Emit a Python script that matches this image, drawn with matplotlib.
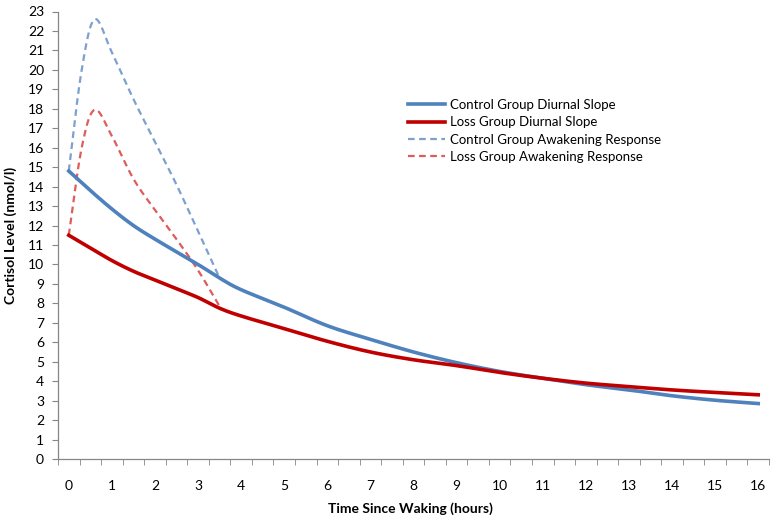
import numpy as np
import matplotlib
matplotlib.use("Agg")
import matplotlib.pyplot as plt
from matplotlib.ticker import MultipleLocator, FixedLocator

plt.rcParams['font.family'] = ['Lato', 'DejaVu Sans']

# diurnal slope (hours since waking -> cortisol nmol/l)
hours = [0, 0.5, 1, 1.5, 2, 2.5, 3, 3.5, 4, 5, 6, 7, 8, 9, 10, 11, 12, 13, 14, 15, 16]
control_slope = [14.8, 13.8, 12.85, 12.0, 11.3, 10.65, 10.0, 9.3, 8.7, 7.8, 6.85, 6.15, 5.5, 4.95, 4.5, 4.15, 3.82, 3.55, 3.25, 3.02, 2.85]
loss_slope = [11.5, 10.85, 10.2, 9.65, 9.2, 8.75, 8.3, 7.75, 7.35, 6.7, 6.05, 5.5, 5.1, 4.8, 4.45, 4.15, 3.9, 3.72, 3.55, 3.42, 3.3]

# awakening response
awake_hours = [0, 0.3, 0.6, 1, 1.5, 2, 2.5, 3, 3.5]
control_awake = [14.8, 20.0, 22.6, 20.9, 18.5, 16.3, 14.1, 11.7, 9.3]
loss_awake = [11.5, 16.0, 17.95, 16.6, 14.4, 12.8, 11.3, 9.7, 7.85]


def smooth(x, y, n=20):
    # catmull-rom curve through the points, like excel's smoothed line
    x = np.asarray(x, float)
    y = np.asarray(y, float)
    px = np.concatenate([[2 * x[0] - x[1]], x, [2 * x[-1] - x[-2]]])
    py = np.concatenate([[2 * y[0] - y[1]], y, [2 * y[-1] - y[-2]]])
    xs, ys = [], []
    t = np.linspace(0, 1, n, endpoint=False)
    for i in range(1, len(px) - 2):
        for arr, out in ((px, xs), (py, ys)):
            p0, p1, p2, p3 = arr[i - 1:i + 3]
            out.extend(0.5 * (2 * p1 + (-p0 + p2) * t + (2 * p0 - 5 * p1 + 4 * p2 - p3) * t ** 2
                              + (-p0 + 3 * p1 - 3 * p2 + p3) * t ** 3))
    xs.append(x[-1])
    ys.append(y[-1])
    return xs, ys


fig = plt.figure(figsize=(7.76, 5.24), dpi=100)
ax = fig.add_axes([58 / 776, 1 - 459 / 524, (769 - 58) / 776, (459 - 11.5) / 524])

ax.plot(*smooth(hours, control_slope), color='#4F81BD', lw=2.6, label='Control Group Diurnal Slope', zorder=3)
ax.plot(*smooth(hours, loss_slope), color='#C00000', lw=2.6, label='Loss Group Diurnal Slope', zorder=3)
ax.plot(*smooth(awake_hours, control_awake), color='#7DA0CF', lw=1.6, ls=(0, (3, 2)),
        label='Control Group Awakening Response', zorder=2)
ax.plot(*smooth(awake_hours, loss_awake), color='#DD5C5C', lw=1.6, ls=(0, (3, 2)),
        label='Loss Group Awakening Response', zorder=2)

ax.set_xlim(-0.25, 16.25)
ax.set_ylim(0, 23)

for s in ['top', 'right']:
    ax.spines[s].set_visible(False)
for s in ['left', 'bottom']:
    ax.spines[s].set_color('#868686')
    ax.spines[s].set_linewidth(0.9)

ax.yaxis.set_major_locator(MultipleLocator(1))
ax.tick_params(axis='y', length=4, color='#868686', labelsize=10, pad=6)

ax.xaxis.set_major_locator(MultipleLocator(1))
ax.xaxis.set_minor_locator(FixedLocator(np.arange(-0.25, 16.3, 0.5)))
ax.tick_params(axis='x', which='major', length=0, labelsize=10, pad=15)
ax.tick_params(axis='x', which='minor', length=4, color='#868686')

fig.text(410 / 776, 1 - 509 / 524, 'Time Since Waking (hours)', fontsize=10, fontweight='bold',
         ha='center', va='center')
fig.text(11 / 776, 1 - 235 / 524, 'Cortisol Level (nmol/l)', fontsize=10, fontweight='bold',
         ha='center', va='center', rotation=90)

ax.legend(loc='upper left', bbox_to_anchor=(408 / 776, 1 - 99 / 524), bbox_transform=fig.transFigure,
          frameon=False, fontsize=9.5, borderpad=0, borderaxespad=0,
          handlelength=2.8, handletextpad=0.4, labelspacing=0.4)

fig.savefig('out.png', dpi=100)
